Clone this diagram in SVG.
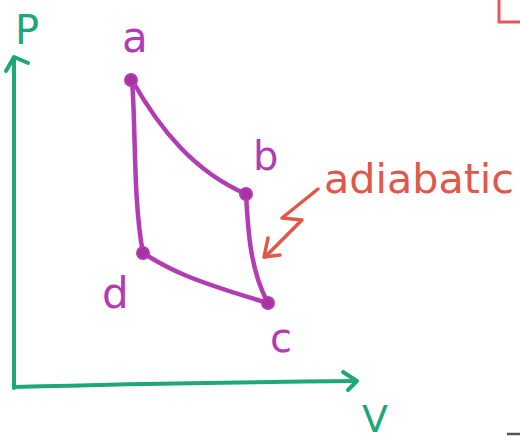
<svg xmlns="http://www.w3.org/2000/svg" width="520" height="440" viewBox="0 0 520 440">
<style>
.axis{fill:none;stroke:#1fa877;stroke-width:4;stroke-linecap:round;stroke-linejoin:round}
.proc{fill:none;stroke:#b23cb4;stroke-width:4.5;stroke-linecap:round}
.dot{fill:#a8329f;stroke:#b23cb4;stroke-width:2}
.lbl{font-family:"DejaVu Sans",sans-serif;fill:#b23cb4}
.axl{font-family:"DejaVu Sans",sans-serif;fill:#1fa877}
.ann{fill:none;stroke:#e0584a;stroke-width:3.5;stroke-linecap:round;stroke-linejoin:round}
</style>
<rect width="520" height="440" fill="#ffffff"/>
<g id="axes">
<path class="axis" d="M14,388 L14,58"/>
<path class="axis" d="M6,71 L14,57 L28,63"/>
<path class="axis" d="M14,387 C120,384 250,382 356,381"/>
<path class="axis" d="M343,372 L357,381 L348,390"/>
<text class="axl" x="15" y="44" font-size="40">P</text>
<text class="axl" x="362" y="432" font-size="38">V</text>
</g>
<g id="connectors">
<path class="proc" d="M132,80 C160,130 195,172 246,194"/>
<path class="proc" d="M132,80 C136,130 133,200 143,253"/>
<path class="proc" d="M246,194 C248,230 250,270 268,303"/>
<path class="proc" d="M143,253 C170,270 190,280 268,303"/>
</g>
<g id="node-a"><circle class="dot" cx="131" cy="80" r="6"/><text class="lbl" x="122" y="52" font-size="42">a</text></g>
<g id="node-b"><circle class="dot" cx="246" cy="194" r="6"/><text class="lbl" x="253" y="170" font-size="40">b</text></g>
<g id="node-c"><circle class="dot" cx="268" cy="303" r="6"/><text class="lbl" x="270" y="352" font-size="40">c</text></g>
<g id="node-d"><circle class="dot" cx="143" cy="253" r="6"/><text class="lbl" x="102" y="308" font-size="42">d</text></g>
<g id="annotation">
<text x="324" y="193" font-family="DejaVu Sans, sans-serif" font-size="40" fill="#e0584a" textLength="190" lengthAdjust="spacingAndGlyphs">adiabatic</text>
<path class="ann" d="M318,189 L282,218 L302,220 L265,257"/>
<path class="ann" d="M268,238 L264,257 L280,255"/>
</g>
<g id="fragments">
<path d="M499,0 L499,22 L520,22" fill="none" stroke="#e05a5a" stroke-width="3"/>
<path d="M507,434 L520,434" stroke="#555" stroke-width="2.5"/>
</g>
</svg>
